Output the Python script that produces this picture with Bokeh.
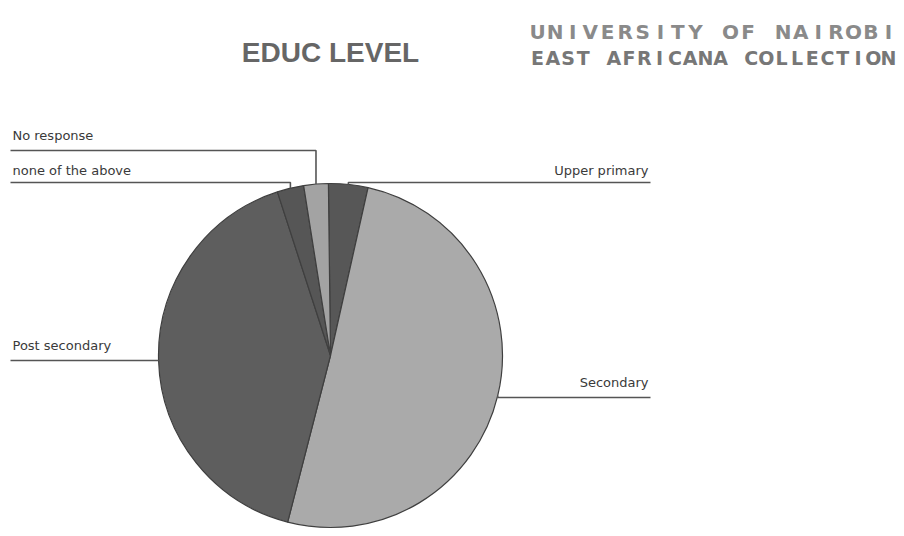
import math
from bokeh.plotting import figure
from bokeh.models import Range1d, ColumnDataSource
from bokeh.core.properties import value
from bokeh.embed import file_html
from bokeh.resources import INLINE

# ---- data (percent of respondents) ----
categories = ["Upper primary", "Secondary", "Post secondary", "none of the above", "No response"]
shares = [3.7, 50.5, 41.0, 2.5, 2.3]
colors = ["#575757", "#aaaaaa", "#5e5e5e", "#565656", "#a3a3a3"]

W, H = 904, 536
cx, cy, r = 330, H - 355, 172  # pie centre (y measured from bottom)

p = figure(width=W, height=H, x_range=Range1d(0, W), y_range=Range1d(0, H),
           x_axis_type=None, y_axis_type=None, toolbar_location=None,
           output_backend="svg", min_border=0)
p.grid.visible = False
p.outline_line_color = None
p.background_fill_color = "white"
p.border_fill_color = "white"

total = sum(shares)
offset_deg = -0.7  # first slice starts just left of 12 o'clock
starts, ends, mids = [], [], []
cum = 0.0
for s in shares:
    a0 = math.pi / 2 - math.radians(offset_deg) - cum / total * 2 * math.pi
    cum += s
    a1 = math.pi / 2 - math.radians(offset_deg) - cum / total * 2 * math.pi
    starts.append(a0)
    ends.append(a1)
    mids.append((a0 + a1) / 2)

src = ColumnDataSource(dict(start=starts, end=ends, color=colors, cat=categories))
p.wedge(x=cx, y=cy, radius=r, start_angle="start", end_angle="end", direction="clock",
        fill_color="color", line_color="#3f3f3f", line_width=1.2, source=src)

# ---- labels with leader lines (layout) ----
label_layout = {
    "No response":       dict(tx=12,  ty=135, ly=150, side="left"),
    "none of the above": dict(tx=12,  ty=170, ly=182, side="left"),
    "Post secondary":    dict(tx=12,  ty=345, ly=360, side="left"),
    "Upper primary":     dict(tx=648, ty=170, ly=182, side="right"),
    "Secondary":         dict(tx=648, ty=382, ly=397, side="right"),
}
for cat, m in zip(categories, mids):
    L = label_layout[cat]
    ax = cx + r * math.cos(m)
    ay = cy + r * math.sin(m)
    ly = H - L["ly"]
    endx = 10 if L["side"] == "left" else 650
    p.line(x=[endx, ax, ax], y=[ly, ly, ay], line_color="#555555", line_width=1.6)
    p.text(x=[L["tx"]], y=[H - L["ty"]], text=[cat],
           text_align="left" if L["side"] == "left" else "right",
           text_baseline="middle", text_font=value("DejaVu Sans"),
           text_font_size="13px", text_color="#3a3a3a")

# ---- title ----
p.text(x=[330], y=[H - 52], text=["EDUC LEVEL"], text_align="center",
       text_baseline="middle", text_font=value("Liberation Sans"),
       text_font_size="28px", text_font_style="bold", text_color="#666666")

# ---- library stamp ----
stamp1 = "UNIVERSITY OF NAIROBI"
stamp2 = "EAST AFRICANA COLLECTION"
x0, x1 = 537, 888
step1 = (x1 - x0) / (len(stamp1) - 1)
step2 = (x1 - x0) / (len(stamp2) - 1)
p.text(x=[x0 + i * step1 for i in range(len(stamp1))], y=[H - 31] * len(stamp1),
       text=list(stamp1), text_align="center", text_baseline="middle",
       text_font=value("DejaVu Sans"), text_font_size="20px",
       text_font_style="bold", text_color="#8a8a8a")
p.text(x=[x0 + i * step2 for i in range(len(stamp2))], y=[H - 57] * len(stamp2),
       text=list(stamp2), text_align="center", text_baseline="middle",
       text_font=value("DejaVu Sans"), text_font_size="19px",
       text_font_style="bold", text_color="#777777")

open("out.html", "w").write(file_html(p, INLINE))
